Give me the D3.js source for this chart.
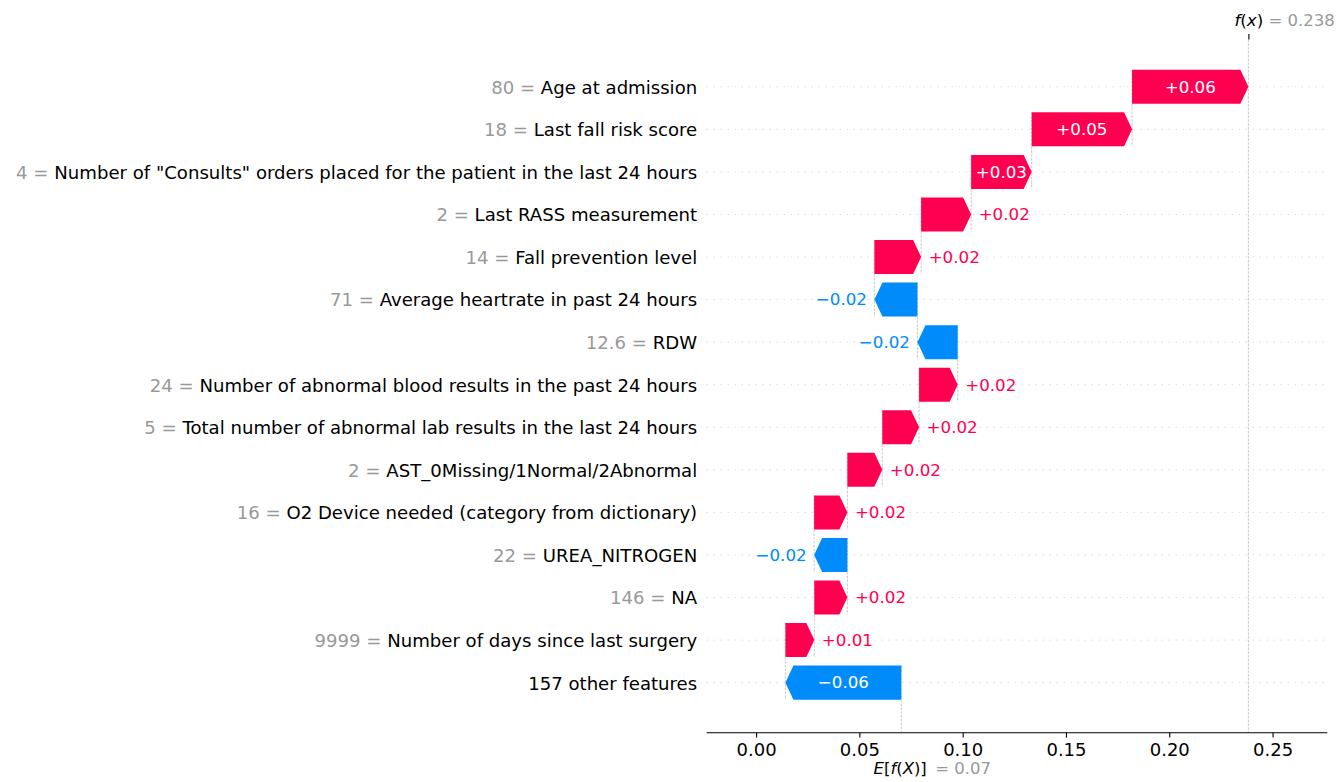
<!DOCTYPE html>
<html>
<head>
<meta charset="utf-8">
<script src="https://cdn.jsdelivr.net/npm/d3@7"></script>
<style>
    body { margin: 0; background: #ffffff; }
    svg { display: block; font-family: "DejaVu Sans", sans-serif; }
    text { white-space: pre; }
</style>
</head>
<body>
<div id="chart"></div>
<script>
// feature rows, top to bottom
const featureValues = ["80", "18", "4", "2", "14", "71", "12.6", "24", "5", "2", "16", "22", "146", "9999", ""];
const featureNames = [
    "Age at admission",
    "Last fall risk score",
    "Number of \"Consults\" orders placed for the patient in the last 24 hours",
    "Last RASS measurement",
    "Fall prevention level",
    "Average heartrate in past 24 hours",
    "RDW",
    "Number of abnormal blood results in the past 24 hours",
    "Total number of abnormal lab results in the last 24 hours",
    "AST_0Missing/1Normal/2Abnormal",
    "O2 Device needed (category from dictionary)",
    "UREA_NITROGEN",
    "NA",
    "Number of days since last surgery",
    "157 other features"
];
const shapValues = [0.0563, 0.0486, 0.0293, 0.0242, 0.0226, -0.0208, -0.0195, 0.0187, 0.0178, 0.0169, 0.0161, -0.0161, 0.0160, 0.0140, -0.0561];
const baseValue = 0.0703;
const xTicks = [0.00, 0.05, 0.10, 0.15, 0.20, 0.25];
const xDomain = [-0.0239, 0.2765];

const redColor = "#ff0051";
const blueColor = "#008bfb";
const grayColor = "#999999";

function formatValue(v, digits) {
    // like shap: fixed digits, trailing zeros stripped, real minus sign
    let s = v.toFixed(digits);
    if (s.indexOf(".") >= 0) s = s.replace(/0+$/, "").replace(/\.$/, "");
    return s.replace("-", "\u2212");
}
function formatShap(v) {
    let s = (v >= 0 ? "+" : "-") + Math.abs(v).toFixed(2);
    return s.replace("-", "\u2212");
}

class Waterfall {
    constructor(parentElement) {
        this.parentElement = parentElement;
        this.initVis();
    }

    initVis() {
        let vis = this;

        vis.width = 1342;
        vis.height = 782;
        vis.plot = {left: 706.7, right: 1327.3, top: 39.5, bottom: 732.7};

        vis.svg = d3.select("#" + vis.parentElement).append("svg")
            .attr("width", vis.width)
            .attr("height", vis.height);

        vis.svg.append("rect")
            .attr("width", vis.width)
            .attr("height", vis.height)
            .attr("fill", "#ffffff");

        vis.x = d3.scaleLinear()
            .domain(xDomain)
            .range([vis.plot.left, vis.plot.right]);

        vis.y = d3.scaleLinear()
            .domain([-1.111, 15.176])
            .range([vis.plot.top, vis.plot.bottom]);

        vis.fx = baseValue + d3.sum(shapValues);
        vis.n = shapValues.length;

        // start = side nearer the base value, end = side nearer f(x)
        vis.rows = shapValues.map((v, i) => {
            let start = baseValue + d3.sum(shapValues.slice(i + 1));
            return {i: i, value: v, start: start, end: start + v};
        });

        vis.drawGrid();
        vis.drawBars();
        vis.drawAxes();
        vis.drawLabels();
    }

    drawGrid() {
        let vis = this;

        vis.svg.append("g").selectAll("line.row")
            .data(vis.rows)
            .enter()
            .append("line")
            .attr("class", "row")
            .attr("x1", vis.plot.left)
            .attr("x2", vis.plot.right)
            .attr("y1", d => vis.y(d.i))
            .attr("y2", d => vis.y(d.i))
            .attr("stroke", "#cccccc")
            .attr("stroke-width", 1)
            .attr("stroke-dasharray", "1,6");

        // connectors from each bar's start down to the next row
        vis.svg.append("g").selectAll("line.connect")
            .data(vis.rows)
            .enter()
            .append("line")
            .attr("class", "connect")
            .attr("x1", d => vis.x(d.start))
            .attr("x2", d => vis.x(d.start))
            .attr("y1", d => vis.y(d.i - 0.4))
            .attr("y2", d => Math.min(vis.y(d.i + 1.4), vis.plot.bottom))
            .attr("stroke", "#bbbbbb")
            .attr("stroke-width", 0.8)
            .attr("stroke-dasharray", "2.6,1.2");

        vis.svg.append("line")
            .attr("x1", vis.x(vis.fx))
            .attr("x2", vis.x(vis.fx))
            .attr("y1", vis.plot.top)
            .attr("y2", vis.plot.bottom)
            .attr("stroke", "#bbbbbb")
            .attr("stroke-width", 0.8)
            .attr("stroke-dasharray", "2.6,1.2");
    }

    drawBars() {
        let vis = this;
        let headLength = 8;

        let arrowPath = d => {
            let yTop = vis.y(d.i - 0.4), yBot = vis.y(d.i + 0.4), yMid = vis.y(d.i);
            let xs = vis.x(d.start), xe = vis.x(d.end);
            let hl = Math.min(headLength, Math.abs(xe - xs));
            let dir = d.value >= 0 ? 1 : -1;
            return `M${xs},${yTop} L${xe - dir * hl},${yTop} L${xe},${yMid} L${xe - dir * hl},${yBot} L${xs},${yBot} Z`;
        };

        vis.svg.append("g").selectAll("path.bar")
            .data(vis.rows)
            .enter()
            .append("path")
            .attr("class", "bar")
            .attr("d", arrowPath)
            .attr("fill", d => d.value >= 0 ? redColor : blueColor);

        // value labels, inside when they fit, otherwise beside the arrow
        vis.svg.append("g").selectAll("text.val")
            .data(vis.rows)
            .enter()
            .append("text")
            .attr("class", "val")
            .attr("font-size", "16.7px")
            .attr("y", d => vis.y(d.i))
            .attr("dy", "0.35em")
            .text(d => formatShap(d.value))
            .each(function(d) {
                let t = d3.select(this);
                let barWidth = Math.abs(vis.x(d.end) - vis.x(d.start));
                if (this.getComputedTextLength() < barWidth) {
                    t.attr("x", (vis.x(d.start) + vis.x(d.end)) / 2)
                        .attr("text-anchor", "middle")
                        .attr("fill", "#ffffff");
                } else if (d.value >= 0) {
                    t.attr("x", vis.x(d.end) + 7.5)
                        .attr("text-anchor", "start")
                        .attr("fill", redColor);
                } else {
                    t.attr("x", vis.x(d.end) - 7.5)
                        .attr("text-anchor", "end")
                        .attr("fill", blueColor);
                }
            });
    }

    drawAxes() {
        let vis = this;

        let xAxis = d3.axisBottom(vis.x)
            .tickValues(xTicks)
            .tickFormat(d3.format(".2f"))
            .tickSize(4.9)
            .tickSizeOuter(0)
            .tickPadding(5.6);

        let axisG = vis.svg.append("g")
            .attr("transform", `translate(0,${vis.plot.bottom})`)
            .call(xAxis);
        axisG.select(".domain")
            .attr("stroke", "#000000")
            .attr("stroke-width", 1.1)
            .attr("d", `M${vis.plot.left},0H${vis.plot.right}`);
        axisG.selectAll(".tick line").attr("stroke", "#000000").attr("stroke-width", 1.1);
        axisG.selectAll(".tick text")
            .attr("font-family", "DejaVu Sans")
            .attr("font-size", "18px")
            .attr("fill", "#000000");

        // f(x) tick on top
        let topAxis = d3.axisTop(vis.x)
            .tickValues([vis.fx])
            .tickFormat("")
            .tickSize(5.5)
            .tickSizeOuter(0);
        let topG = vis.svg.append("g")
            .attr("transform", `translate(0,${vis.plot.top})`)
            .call(topAxis);
        topG.select(".domain").remove();
        topG.selectAll(".tick line").attr("stroke", "#000000").attr("stroke-width", 1.1);
    }

    drawLabels() {
        let vis = this;

        let yLabels = vis.svg.append("g").selectAll("text.feat")
            .data(vis.rows)
            .enter()
            .append("text")
            .attr("class", "feat")
            .attr("x", vis.plot.left - 9.5)
            .attr("y", d => vis.y(d.i))
            .attr("dy", "0.38em")
            .attr("text-anchor", "end")
            .attr("font-size", "18.1px");

        yLabels.filter(d => featureValues[d.i] !== "")
            .append("tspan")
            .attr("fill", grayColor)
            .text(d => featureValues[d.i] + " = ");
        yLabels.append("tspan")
            .attr("fill", "#000000")
            .text(d => featureNames[d.i]);

        // f(x) label above
        let fxX = vis.x(vis.fx);
        let fxText = vis.svg.append("text")
            .attr("x", fxX - 13.9)
            .attr("y", 26)
            .attr("font-size", "16.7px")
            .attr("fill", "#000000");
        fxText.append("tspan").attr("font-style", "italic").text("f");
        fxText.append("tspan").text("(");
        fxText.append("tspan").attr("font-style", "italic").text("x");
        fxText.append("tspan").text(")");

        vis.svg.append("text")
            .attr("x", fxX + 20)
            .attr("y", 26)
            .attr("font-size", "16.5px")
            .attr("fill", grayColor)
            .text("= " + formatValue(vis.fx, 3));

        // E[f(X)] label below
        let bX = vis.x(baseValue);
        let eText = vis.svg.append("text")
            .attr("x", bX - 27.8)
            .attr("y", 774)
            .attr("font-size", "16.5px")
            .attr("fill", "#000000");
        eText.append("tspan").attr("font-style", "italic").text("E");
        eText.append("tspan").text("[");
        eText.append("tspan").attr("font-style", "italic").text("f");
        eText.append("tspan").text("(");
        eText.append("tspan").attr("font-style", "italic").text("X");
        eText.append("tspan").text(")]");

        vis.svg.append("text")
            .attr("x", bX + 34)
            .attr("y", 774)
            .attr("font-size", "16.5px")
            .attr("fill", grayColor)
            .text("= " + formatValue(baseValue, 3));
    }
}

new Waterfall("chart");
</script>
</body>
</html>
